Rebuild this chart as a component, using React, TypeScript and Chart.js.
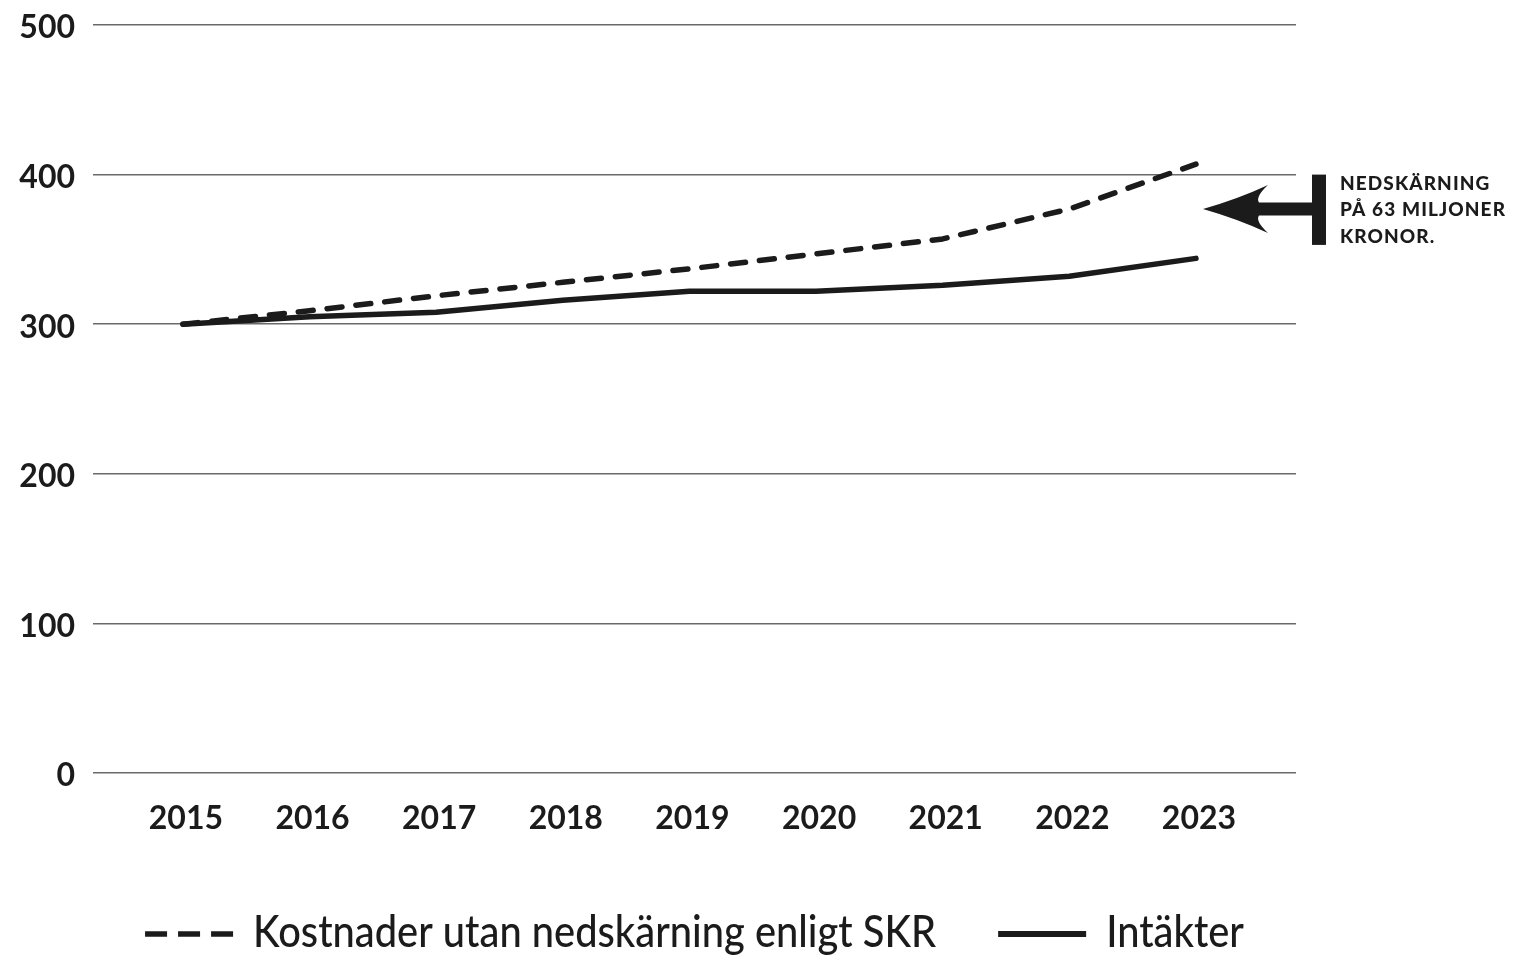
import React, { useEffect, useRef } from "react";
import { Chart, registerables } from "chart.js";

Chart.register(...registerables);

// ---- data ----
const years = [2015, 2016, 2017, 2018, 2019, 2020, 2021, 2022, 2023];
const kostnader = [300, 309, 319, 328, 337, 347, 357, 377, 407];
const intakter = [300, 305, 308, 316, 322, 322, 326, 332, 344];
const yTicks = [0, 100, 200, 300, 400, 500];
const seriesLabels = ["Kostnader utan nedskärning enligt SKR", "Intäkter"];
const noteLines = ["NEDSKÄRNING", "PÅ 63 MILJONER", "KRONOR."];
const noteSpan = [400, 353];
const noteArrowValue = 377;

const INK = "#1b1b1b";
const TICK_FONT = { family: "Lato, 'Open Sans', sans-serif", size: 32, weight: "bold" as const };

const notePlugin = {
  id: "note",
  afterDraw(chart: any) {
    const { ctx, chartArea, scales } = chart;
    const ys = scales.y;
    const r = chartArea.right;
    const top = ys.getPixelForValue(noteSpan[0]);
    const bot = ys.getPixelForValue(noteSpan[1]);
    const c = ys.getPixelForValue(noteArrowValue);
    ctx.save();
    ctx.fillStyle = INK;
    ctx.fillRect(r + 16, top, 14, bot - top);
    const tip = r - 93;
    const barb = r - 28;
    const neck = r - 37;
    ctx.beginPath();
    ctx.moveTo(tip, c);
    ctx.quadraticCurveTo(barb - 30, c - 10, barb, c - 24);
    ctx.quadraticCurveTo(neck - 4, c - 12, neck, c - 6.5);
    ctx.lineTo(r + 17, c - 6.5);
    ctx.lineTo(r + 17, c + 6.5);
    ctx.lineTo(neck, c + 6.5);
    ctx.quadraticCurveTo(neck - 4, c + 12, barb, c + 24);
    ctx.quadraticCurveTo(barb - 30, c + 10, tip, c);
    ctx.closePath();
    ctx.fill();
    ctx.font = "900 19px Lato, 'Open Sans', sans-serif";
    try {
      (ctx as any).letterSpacing = "1.1px";
    } catch (e) {}
    ctx.textBaseline = "middle";
    ctx.textAlign = "left";
    noteLines.forEach((t, i) => ctx.fillText(t, r + 44, top + 9 + i * 26.5));
    ctx.restore();
  },
};

const legendPlugin = {
  id: "bottomLegend",
  afterDraw(chart: any) {
    const { ctx, chartArea } = chart;
    ctx.save();
    ctx.font = "500 45px Lato, sans-serif";
    ctx.textBaseline = "middle";
    ctx.textAlign = "left";
    const squeeze = 0.885;
    const sample = 88;
    const gapText = 20;
    const gapItem = 62;
    const items = chart.data.datasets.map((ds: any) => ({
      label: ds.label as string,
      w: ctx.measureText(ds.label).width * squeeze,
      dashed: Array.isArray(ds.borderDash) && ds.borderDash.length > 0,
    }));
    let total = 0;
    items.forEach((it: any, i: number) => {
      total += sample + gapText + it.w + (i < items.length - 1 ? gapItem : 0);
    });
    const cx = (chartArea.left + chartArea.right) / 2;
    let x = cx - total / 2;
    const ty = chart.height - 23;
    const ly = chart.height - 21;
    items.forEach((it: any) => {
      ctx.strokeStyle = INK;
      ctx.lineWidth = it.dashed ? 5.5 : 6;
      ctx.setLineDash(it.dashed ? [22, 11] : []);
      ctx.lineCap = "butt";
      ctx.beginPath();
      ctx.moveTo(x, ly);
      ctx.lineTo(x + sample, ly);
      ctx.stroke();
      ctx.setLineDash([]);
      ctx.fillStyle = INK;
      ctx.save();
      ctx.translate(x + sample + gapText, ty);
      ctx.scale(squeeze, 1);
      ctx.fillText(it.label, 0, 0);
      ctx.restore();
      x += sample + gapText + it.w + gapItem;
    });
    ctx.restore();
  },
};

export default function App() {
  const ref = useRef<HTMLCanvasElement | null>(null);

  useEffect(() => {
    document.body.style.margin = "0";
    const canvas = ref.current;
    if (!canvas) return;
    const chart = new Chart(canvas, {
      type: "line",
      data: {
        datasets: [
          {
            label: seriesLabels[0],
            data: years.map((yr, i) => ({ x: yr, y: kostnader[i] })),
            borderColor: INK,
            borderWidth: 5.5,
            borderDash: [15, 14],
            borderCapStyle: "round",
            borderJoinStyle: "round",
            pointRadius: 0,
            tension: 0,
            fill: false,
          },
          {
            label: seriesLabels[1],
            data: years.map((yr, i) => ({ x: yr, y: intakter[i] })),
            borderColor: INK,
            borderWidth: 5.5,
            borderCapStyle: "round",
            borderJoinStyle: "round",
            pointRadius: 0,
            tension: 0,
            fill: false,
          },
        ],
      },
      options: {
        animation: false,
        responsive: false,
        devicePixelRatio: 1,
        layout: { padding: { top: 25, right: 218, bottom: 102, left: 0 } },
        plugins: {
          legend: { display: false },
          tooltip: { enabled: false },
        },
        scales: {
          x: {
            type: "linear",
            min: 2014.29,
            max: 2023.79,
            afterBuildTicks: (s: any) => {
              s.ticks = years.map((v) => ({ value: v }));
            },
            afterFit: (s: any) => {
              s.height = 80;
              s.paddingLeft = 0;
              s.paddingRight = 0;
            },
            ticks: {
              callback: (v: any) => String(v),
              font: TICK_FONT,
              color: INK,
              padding: 26,
              labelOffset: 3,
              maxRotation: 0,
              autoSkip: false,
            },
            grid: { display: false, drawTicks: false },
            border: { display: false },
          },
          y: {
            min: 0,
            max: 500,
            afterBuildTicks: (s: any) => {
              s.ticks = yTicks.map((v) => ({ value: v }));
            },
            afterFit: (s: any) => {
              s.width = 93;
              s.paddingTop = 0;
              s.paddingBottom = 0;
            },
            ticks: {
              font: TICK_FONT,
              color: INK,
              padding: 18,
              labelOffset: 3,
            },
            grid: { color: "#6a6a6a", lineWidth: 1.6, drawTicks: false },
            border: { display: false },
          },
        },
      },
      plugins: [notePlugin, legendPlugin],
    } as any);
    return () => chart.destroy();
  }, []);

  return (
    <div style={{ width: 1514, height: 955, background: "#fff" }}>
      <canvas ref={ref} width={1514} height={955} style={{ display: "block" }} />
    </div>
  );
}
